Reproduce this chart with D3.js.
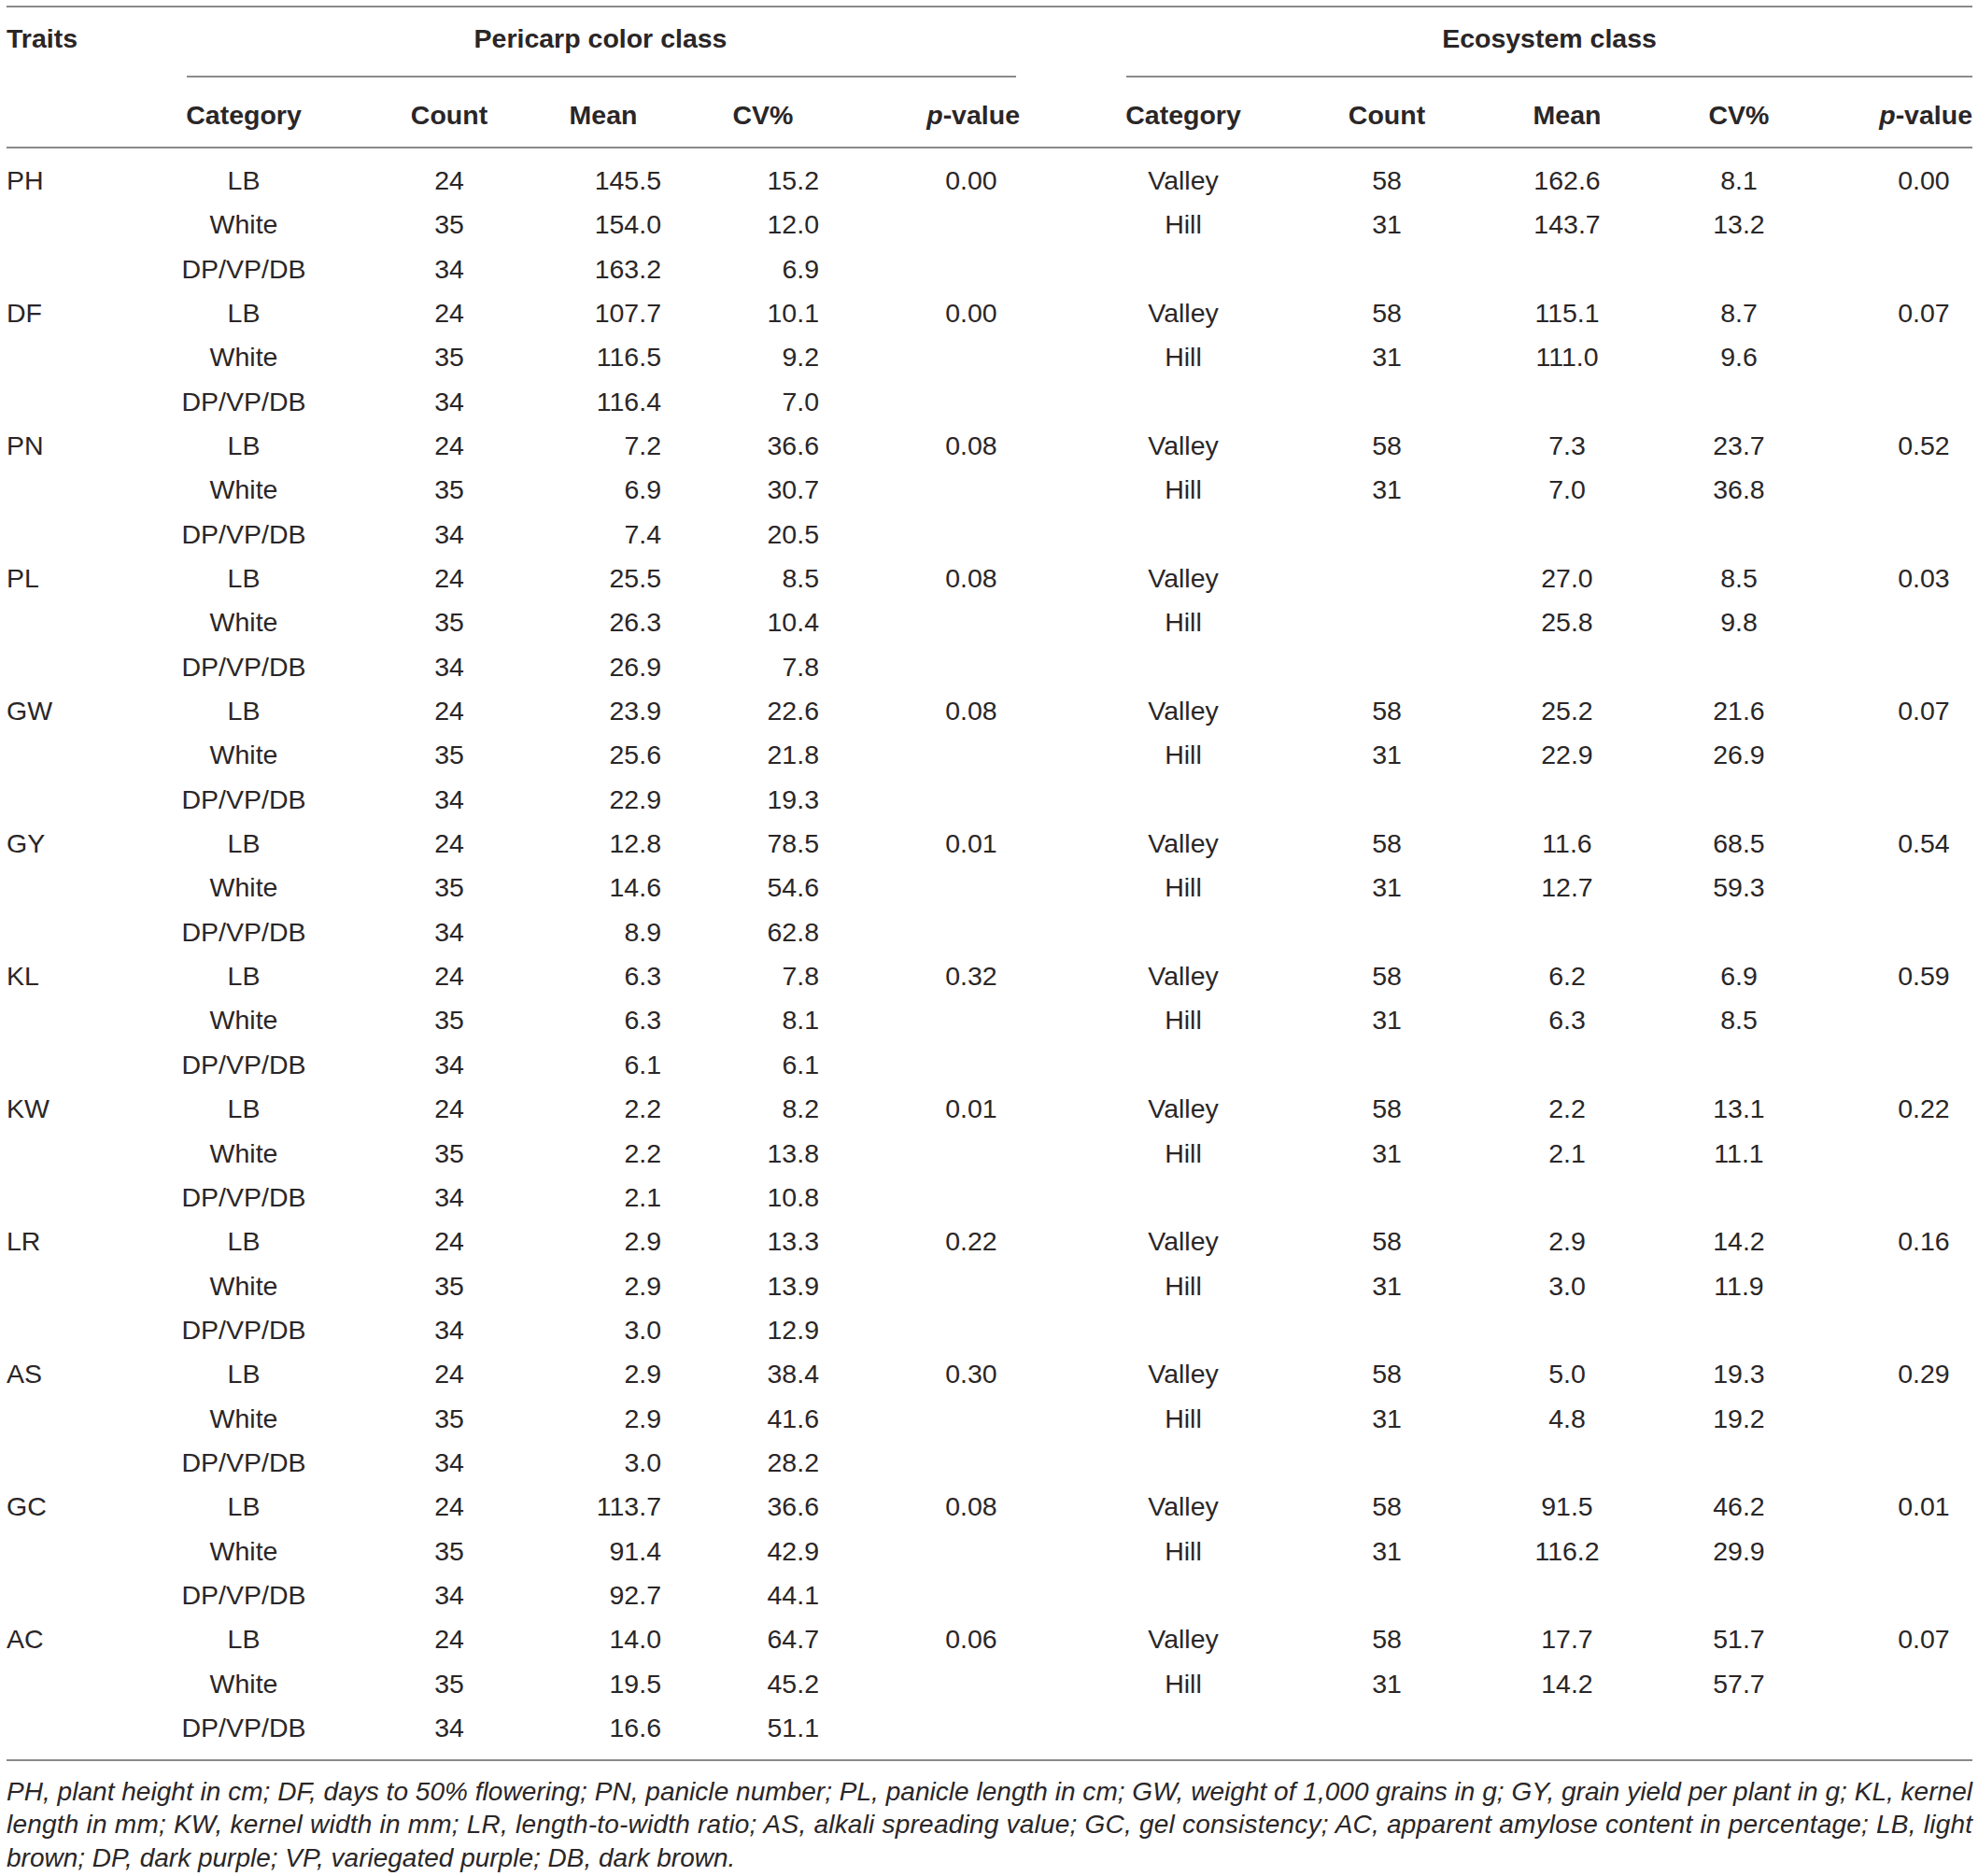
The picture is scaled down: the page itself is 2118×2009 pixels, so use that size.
<!DOCTYPE html>
<html>
<head>
<meta charset="utf-8">
<script src="https://cdn.jsdelivr.net/npm/d3@7"></script>
<style>
  body { margin: 0; background: #fff; }
  text { font-family: "Liberation Sans", Arial, sans-serif; fill: #2a2627; }
</style>
</head>
<body>
<div id="mytable"></div>
<script>
// table values
var traits = ["PH", "DF", "PN", "PL", "GW", "GY", "KL", "KW", "LR", "AS", "GC", "AC"];

var pcCategories = ["LB", "White", "DP/VP/DB"];
var pcCount = [24, 35, 34];
var pcMean = [
  [145.5, 154.0, 163.2], [107.7, 116.5, 116.4], [7.2, 6.9, 7.4], [25.5, 26.3, 26.9],
  [23.9, 25.6, 22.9], [12.8, 14.6, 8.9], [6.3, 6.3, 6.1], [2.2, 2.2, 2.1],
  [2.9, 2.9, 3.0], [2.9, 2.9, 3.0], [113.7, 91.4, 92.7], [14.0, 19.5, 16.6]];
var pcCV = [
  [15.2, 12.0, 6.9], [10.1, 9.2, 7.0], [36.6, 30.7, 20.5], [8.5, 10.4, 7.8],
  [22.6, 21.8, 19.3], [78.5, 54.6, 62.8], [7.8, 8.1, 6.1], [8.2, 13.8, 10.8],
  [13.3, 13.9, 12.9], [38.4, 41.6, 28.2], [36.6, 42.9, 44.1], [64.7, 45.2, 51.1]];
var pcP = ["0.00", "0.00", "0.08", "0.08", "0.08", "0.01", "0.32", "0.01", "0.22", "0.30", "0.08", "0.06"];

var ecoCategories = ["Valley", "Hill"];
var ecoCount = [58, 31];
var ecoNoCount = ["PL"];   // counts left blank in the source
var ecoMean = [
  [162.6, 143.7], [115.1, 111.0], [7.3, 7.0], [27.0, 25.8], [25.2, 22.9], [11.6, 12.7],
  [6.2, 6.3], [2.2, 2.1], [2.9, 3.0], [5.0, 4.8], [91.5, 116.2], [17.7, 14.2]];
var ecoCV = [
  [8.1, 13.2], [8.7, 9.6], [23.7, 36.8], [8.5, 9.8], [21.6, 26.9], [68.5, 59.3],
  [6.9, 8.5], [13.1, 11.1], [14.2, 11.9], [19.3, 19.2], [46.2, 29.9], [51.7, 57.7]];
var ecoP = ["0.00", "0.07", "0.52", "0.03", "0.07", "0.54", "0.59", "0.22", "0.16", "0.29", "0.01", "0.07"];

var footnote = [
  "PH, plant height in cm; DF, days to 50% flowering; PN, panicle number; PL, panicle length in cm; GW, weight of 1,000 grains in g; GY, grain yield per plant in g; KL, kernel",
  "length in mm; KW, kernel width in mm; LR, length-to-width ratio; AS, alkali spreading value; GC, gel consistency; AC, apparent amylose content in percentage; LB, light",
  "brown; DP, dark purple; VP, variegated purple; DB, dark brown."];

// set the dimensions
var width = 2118,
    height = 2009,
    left = 7, right = 2112;

var svg = d3.select("#mytable")
  .append("svg")
    .attr("width", width)
    .attr("height", height);

var fmt = d3.format(".1f");
var rowsPerTrait = 3;

// one row per line of the body
var y = d3.scaleLinear()
  .domain([0, traits.length * rowsPerTrait - 1])
  .range([193, 1850]);

var fs = 28.5;

function line(x1, x2, yy) {
  svg.append("line")
    .attr("x1", x1).attr("x2", x2)
    .attr("y1", yy).attr("y2", yy)
    .style("stroke", "#8a8a8a")
    .style("stroke-width", 2);
}

function cell(x, yy, txt, anchor, bold) {
  return svg.append("text")
    .attr("x", x)
    .attr("y", yy)
    .attr("dy", "0.35em")
    .attr("text-anchor", anchor)
    .style("font-size", fs + "px")
    .style("font-weight", bold ? "bold" : "normal")
    .text(txt);
}

// rules
line(left, right, 7);
line(200, 1088, 82);
line(1206, right, 82);
line(left, right, 158);
line(left, right, 1885);

// group headings
cell(left, 41, "Traits", "start", true);
cell(643, 41, "Pericarp color class", "middle", true);
cell(1659, 41, "Ecosystem class", "middle", true);

// column headings
var hy = 123;
cell(261, hy, "Category", "middle", true);
cell(481, hy, "Count", "middle", true);
cell(646, hy, "Mean", "middle", true);
cell(817, hy, "CV%", "middle", true);
var pv = cell(1092, hy, "", "end", true);
pv.append("tspan").style("font-style", "italic").text("p");
pv.append("tspan").text("-value");

cell(1267, hy, "Category", "middle", true);
cell(1485, hy, "Count", "middle", true);
cell(1678, hy, "Mean", "middle", true);
cell(1862, hy, "CV%", "middle", true);
var pv2 = cell(right, hy, "", "end", true);
pv2.append("tspan").style("font-style", "italic").text("p");
pv2.append("tspan").text("-value");

// body
var rows = [];
traits.forEach(function (t, i) {
  pcCategories.forEach(function (c, j) {
    rows.push({
      r: i * rowsPerTrait + j,
      trait: j === 0 ? t : "",
      pcCat: c,
      pcCount: pcCount[j],
      pcMean: fmt(pcMean[i][j]),
      pcCV: fmt(pcCV[i][j]),
      pcP: j === 0 ? pcP[i] : "",
      ecoCat: j < ecoCategories.length ? ecoCategories[j] : "",
      ecoCount: (j < ecoCategories.length && ecoNoCount.indexOf(t) < 0) ? ecoCount[j] : "",
      ecoMean: j < ecoCategories.length ? fmt(ecoMean[i][j]) : "",
      ecoCV: j < ecoCategories.length ? fmt(ecoCV[i][j]) : "",
      ecoP: j === 0 ? ecoP[i] : ""
    });
  });
});

var cols = [
  {key: "trait",    x: left, anchor: "start"},
  {key: "pcCat",    x: 261,  anchor: "middle"},
  {key: "pcCount",  x: 481,  anchor: "middle"},
  {key: "pcMean",   x: 708,  anchor: "end"},
  {key: "pcCV",     x: 877,  anchor: "end"},
  {key: "pcP",      x: 1040, anchor: "middle"},
  {key: "ecoCat",   x: 1267, anchor: "middle"},
  {key: "ecoCount", x: 1485, anchor: "middle"},
  {key: "ecoMean",  x: 1678, anchor: "middle"},
  {key: "ecoCV",    x: 1862, anchor: "middle"},
  {key: "ecoP",     x: 2060, anchor: "middle"}
];

cols.forEach(function (col) {
  svg.append("g")
    .selectAll("text")
    .data(rows)
    .enter()
    .append("text")
      .attr("x", col.x)
      .attr("y", function (d) { return y(d.r); })
      .attr("dy", "0.35em")
      .attr("text-anchor", col.anchor)
      .style("font-size", fs + "px")
      .text(function (d) { return d[col.key]; });
});

// footnote
svg.append("g")
  .selectAll("text")
  .data(footnote)
  .enter()
  .append("text")
    .attr("x", left)
    .attr("y", function (d, i) { return 1918 + i * 35.5; })
    .attr("dy", "0.35em")
    .style("font-size", "28px")
    .style("font-style", "italic")
    .each(function (d, i) {
      if (i < footnote.length - 1) {
        d3.select(this).attr("textLength", right - left).attr("lengthAdjust", "spacing");
      }
    })
    .text(function (d) { return d; });
</script>
</body>
</html>
